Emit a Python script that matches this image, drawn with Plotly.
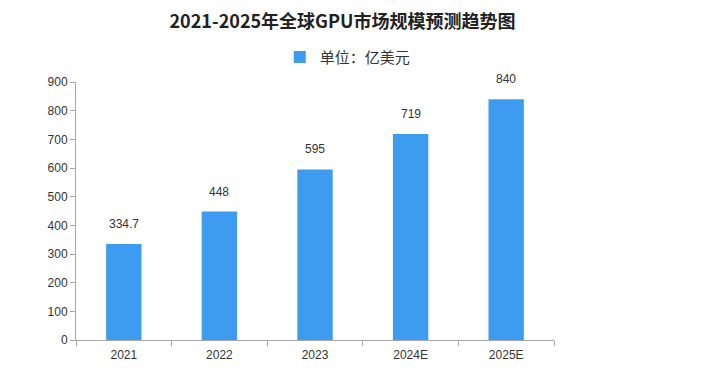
import plotly.graph_objects as go

categories = ["2021", "2022", "2023", "2024E", "2025E"]
values = [334.7, 448, 595, 719, 840]
value_labels = ["334.7", "448", "595", "719", "840"]
series_name = "单位：亿美元"
title_text = "2021-2025年全球GPU市场规模预测趋势图"
y_ticks = [0, 100, 200, 300, 400, 500, 600, 700, 800, 900]

bar_color = "#3d9bf0"
axis_color = "#a6a6a6"
text_color = "#333333"

fig = go.Figure()
fig.add_trace(go.Bar(
    x=categories, y=values, name=series_name,
    marker=dict(color=bar_color, line=dict(width=0)),
    showlegend=True,
))

for i, (v, t) in enumerate(zip(values, value_labels)):
    fig.add_annotation(x=i, y=v, text=t, showarrow=False, yanchor="bottom", yshift=11,
                       font=dict(family="Liberation Sans, Arial", size=12, color=text_color))

# the page adds an 8px body margin; figure size/margins compensate for it
fig.update_layout(
    width=702, height=367,
    paper_bgcolor="white", plot_bgcolor="white",
    margin=dict(l=68, r=156, t=74, b=35, autoexpand=False),
    bargap=0.63,
    title=dict(text="<b>" + title_text + "</b>", x=0.4765, y=0.962, xref="container", yref="container",
               xanchor="center", yanchor="middle",
               font=dict(family="Noto Sans CJK SC", size=18, color="#222222")),
    legend=dict(orientation="h", x=0.484, y=0.866, xref="container", yref="container",
                xanchor="center", yanchor="middle",
                font=dict(family="Noto Sans CJK SC", size=15, color=text_color),
                itemwidth=30),
    xaxis=dict(type="category", range=[-0.5, len(categories) - 0.5],
               showline=True, linecolor=axis_color, linewidth=1,
               ticks="outside", tickson="boundaries", ticklen=5, tickcolor=axis_color,
               ticklabelstandoff=4,
               tickfont=dict(family="Liberation Sans, Arial", size=12, color=text_color),
               showgrid=False, zeroline=False),
    yaxis=dict(range=[0, 900], tickvals=y_ticks, showline=True, linecolor=axis_color, linewidth=1,
               ticks="outside", ticklen=5, tickcolor=axis_color,
               tickfont=dict(family="Liberation Sans, Arial", size=12, color=text_color),
               showgrid=False, zeroline=False),
)

fig.write_html("out.html")
